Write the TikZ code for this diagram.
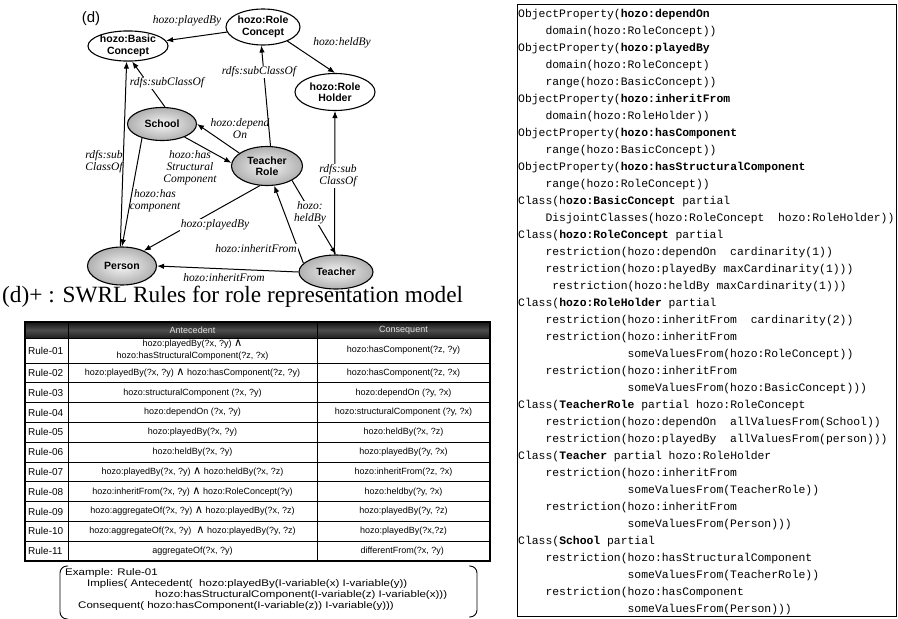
\documentclass[tikz,border=0pt]{standalone}
\usepackage{fontspec}
\setmainfont{Liberation Serif}
\newfontfamily\arialfont{Liberation Sans}
\newfontfamily\arialwide[FakeStretch=1.2]{Liberation Sans}
\newfontfamily\courfont{Liberation Mono}
\newfontfamily\dejavufont[Scale=1.25]{DejaVu Sans}
\usetikzlibrary{shapes.geometric, arrows.meta}

\newcommand{\andop}{{\dejavufont\char"2227}}

\tikzset{
  concept/.style={ellipse, draw, line width=1.1pt, inner sep=0pt, align=center,
    font=\arialfont\bfseries\fontsize{10.5}{11.5}\selectfont},
  plain/.style={concept, fill=white},
  inst/.style={concept, inner color=gray!8, outer color=gray!62},
  rel/.style={-{Latex[length=7pt,width=5.5pt]}, line width=1pt},
  rellbl/.style={font=\itshape\fontsize{11.5}{12}\selectfont, align=center, inner sep=1pt},
  cover/.style={rellbl, fill=white},
  cell/.style={font=\arialfont\fontsize{9}{12}\selectfont, align=center, inner sep=0pt},
  rulelbl/.style={font=\arialfont\fontsize{10}{12}\selectfont, anchor=west, inner sep=0pt},
  codeline/.style={anchor=west, inner sep=0pt, font=\courfont\fontsize{11.4}{13}\selectfont},
  exline/.style={anchor=west, inner sep=0pt, font=\arialwide\fontsize{9.6}{11}\selectfont}
}

\begin{document}
\begin{tikzpicture}[x=1pt, y=-1pt]
  \useasboundingbox (0,0) rectangle (898,619);

  % role representation model
  \node[font=\arialfont\fontsize{15}{16}\selectfont] (dlbl) at (91,19) {(d)};
  \node[plain, minimum width=80pt, minimum height=29pt] (basic) at (128,46) {hozo:Basic\\Concept};
  \node[plain, minimum width=74pt, minimum height=36pt] (rolec) at (263,27) {hozo:Role\\Concept};
  \node[plain, minimum width=80pt, minimum height=37pt] (roleh) at (335,92) {hozo:Role\\Holder};
  \node[inst, minimum width=69pt, minimum height=33pt] (school) at (162,124) {School};
  \node[inst, minimum width=71pt, minimum height=39pt] (trole) at (267,166) {Teacher\\Role};
  \node[inst, minimum width=69pt, minimum height=38pt] (person) at (122,266) {Person};
  \node[inst, minimum width=74pt, minimum height=34pt] (teacher) at (336,272) {Teacher};

  \draw[rel] (rolec) -- (basic);
  \draw[rel] (rolec.-30) -- (roleh.north);
  \draw[rel] (school.80) -- (basic.-75);
  \draw[rel] (person.95) -- (basic.-95);
  \draw[rel] (school.-145) -- (person.north);
  \draw[rel] (trole.155) -- (school.east);
  \draw[rel] (school.-30) -- (trole.175);
  \draw[rel] (trole.80) -- (rolec.-95);
  \draw[rel] (teacher.95) -- (roleh.south);
  \draw[rel] (trole.-30) -- (teacher.north);
  \draw[rel] (teacher.165) -- (trole.-70);
  \draw[rel] (trole.-110) -- (person.35);
  \draw[rel] (teacher.west) -- (person.east);

  \node[rellbl] (l1) at (187,21) {hozo:playedBy};
  \node[rellbl] (l2) at (342,43) {hozo:heldBy};
  \node[cover] (l3) at (167,83) {rdfs:subClassOf};
  \node[rellbl] (l4) at (104,162) {rdfs:sub\\ClassOf};
  \node[rellbl] (l5) at (155,201) {hozo:has\\component};
  \node[rellbl] (l6) at (240,129) {hozo:depend\\On};
  \node[rellbl] (l7) at (190,168) {hozo:has\\Structural\\Component};
  \node[cover] (l8) at (259,72) {rdfs:subClassOf};
  \node[cover] (l9) at (338,176) {rdfs:sub\\ClassOf};
  \node[cover] (l10) at (310,213) {hozo:\\heldBy};
  \node[cover] (l11) at (256,249) {hozo:inheritFrom};
  \node[cover] (l12) at (215,225) {hozo:playedBy};
  \node[rellbl] (l13) at (224,278) {hozo:inheritFrom};

  % SWRL rules
  \node[anchor=west, inner sep=0pt, font=\fontsize{23.3}{25}\selectfont] (title) at (2,297)
    {(d)+ : SWRL Rules for role representation model};

  \shade[top color=black!92, bottom color=black!88, middle color=gray!60!black] (25,322) rectangle (490,338);
  \node[cell, text=white!88!black] (hante) at (192.5,330) {Antecedent};
  \node[cell, text=white!88!black] (hcons) at (403.5,330) {Consequent};
  \foreach \y in {338,363,382.8,402.6,422.4,442.2,462,481.8,501.6,521.4,541.2}
    \draw[line width=0.8pt] (25,\y) -- (490,\y);
  \draw[line width=0.8pt] (68,322) -- (68,561);
  \draw[line width=0.8pt] (317,322) -- (317,561);
  \draw[line width=1.8pt] (25,322) rectangle (490,561);

  \node[rulelbl] (rule1) at (28,350.5) {Rule-01};
  \node[cell] (ante1) at (192.5,350.5) {hozo:playedBy(?x, ?y) \andop\\hozo:hasStructuralComponent(?z, ?x)};
  \node[cell] (cons1) at (403.5,350.5) {hozo:hasComponent(?z, ?y)};
  \foreach \lab/\ante/\cons [count=\i from 2] in {
    {Rule-02}/{hozo:playedBy(?x, ?y) \andop{} hozo:hasComponent(?z, ?y)}/{hozo:hasComponent(?z, ?x)},
    {Rule-03}/{hozo:structuralComponent (?x, ?y)}/{hozo:dependOn (?y, ?x)},
    {Rule-04}/{hozo:dependOn (?x, ?y)}/{hozo:structuralComponent (?y, ?x)},
    {Rule-05}/{hozo:playedBy(?x, ?y)}/{hozo:heldBy(?x, ?z)},
    {Rule-06}/{hozo:heldBy(?x, ?y)}/{hozo:playedBy(?y, ?x)},
    {Rule-07}/{hozo:playedBy(?x, ?y) \andop{} hozo:heldBy(?x, ?z)}/{hozo:inheritFrom(?z, ?x)},
    {Rule-08}/{hozo:inheritFrom(?x, ?y) \andop{} hozo:RoleConcept(?y)}/{hozo:heldby(?y, ?x)},
    {Rule-09}/{hozo:aggregateOf(?x, ?y) \andop{} hozo:playedBy(?x, ?z)}/{hozo:playedBy(?y, ?z)},
    {Rule-10}/{hozo:aggregateOf(?x, ?y) ~\andop{} hozo:playedBy(?y, ?z)}/{hozo:playedBy(?x,?z)},
    {Rule-11}/{aggregateOf(?x, ?y)}/{differentFrom(?x, ?y)}
  }{
    \pgfmathsetmacro{\yc}{363+19.8*(\i-2)+9.9}
    \node[rulelbl] (rule\i) at (28,\yc) {\lab};
    \node[cell] (ante\i) at (192.5,\yc) {\ante};
    \node[cell] (cons\i) at (403.5,\yc) {\cons};
  }

  % example
  \draw[line width=0.9pt, rounded corners=7pt] (68,566) -- (60,566) -- (60,619) -- (68,619);
  \draw[line width=0.9pt, rounded corners=7pt] (469,566) -- (477,566) -- (477,617) -- (469,617);
  \node[exline] (ex1) at (65,573) {Example: Rule-01};
  \node[exline] (ex2) at (87,584) {Implies( Antecedent(~ hozo:playedBy(I-variable(x) I-variable(y))};
  \node[exline] (ex3) at (155,595) {hozo:hasStructuralComponent(I-variable(z) I-variable(x)))};
  \node[exline] (ex4) at (78,606) {Consequent( hozo:hasComponent(I-variable(z)) I-variable(y)))};

  % OWL definitions
  \foreach \ind/\txt [count=\i] in {
    0/{ObjectProperty(\textbf{hozo:dependOn}},
    4/{domain(hozo:RoleConcept))},
    0/{ObjectProperty(\textbf{hozo:playedBy}},
    4/{domain(hozo:RoleConcept)},
    4/{range(hozo:BasicConcept))},
    0/{ObjectProperty(\textbf{hozo:inheritFrom}},
    4/{domain(hozo:RoleHolder))},
    0/{ObjectProperty(\textbf{hozo:hasComponent}},
    4/{range(hozo:BasicConcept))},
    0/{ObjectProperty(\textbf{hozo:hasStructuralComponent}},
    4/{range(hozo:RoleConcept))},
    0/{Class(h\textbf{ozo:BasicConcept}~partial},
    4/{DisjointClasses(hozo:RoleConcept~~hozo:RoleHolder))},
    0/{Class(\textbf{hozo:RoleConcept}~partial},
    4/{restriction(hozo:dependOn~~cardinarity(1))},
    4/{restriction(hozo:playedBy~maxCardinarity(1)))},
    5/{restriction(hozo:heldBy~maxCardinarity(1)))},
    0/{Class(\textbf{hozo:RoleHolder}~partial},
    4/{restriction(hozo:inheritFrom~~cardinarity(2))},
    4/{restriction(hozo:inheritFrom},
    16/{someValuesFrom(hozo:RoleConcept))},
    4/{restriction(hozo:inheritFrom},
    16/{someValuesFrom(hozo:BasicConcept)))},
    0/{Class(\textbf{TeacherRole}~partial~hozo:RoleConcept},
    4/{restriction(hozo:dependOn~~allValuesFrom(School))},
    4/{restriction(hozo:playedBy~~allValuesFrom(person)))},
    0/{Class(\textbf{Teacher}~partial~hozo:RoleHolder},
    4/{restriction(hozo:inheritFrom},
    16/{someValuesFrom(TeacherRole))},
    4/{restriction(hozo:inheritFrom},
    16/{someValuesFrom(Person)))},
    0/{Class(\textbf{School}~partial},
    4/{restriction(hozo:hasStructuralComponent},
    16/{someValuesFrom(TeacherRole))},
    4/{restriction(hozo:hasComponent},
    16/{someValuesFrom(Person)))}
  }{
    \node[codeline] (code\i) at (518+6.84*\ind, 15+17*\i-17) {\txt};
  }
  \draw[line width=0.9pt] (517,4) rectangle (896,616);
\end{tikzpicture}
\end{document}
